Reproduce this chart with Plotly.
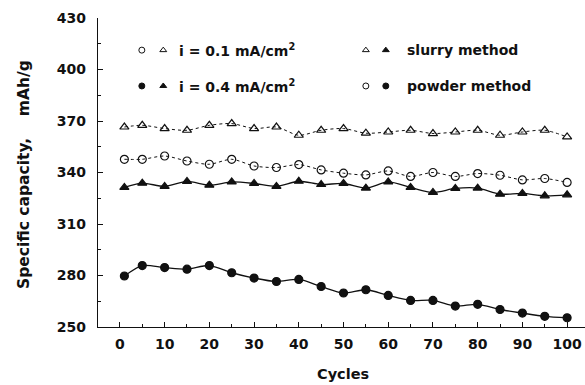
import plotly.graph_objects as go

# Cycle numbers at which capacity was measured
cycles = [1, 5, 10, 15, 20, 25, 30, 35, 40, 45, 50, 55, 60, 65, 70, 75, 80, 85, 90, 95, 100]

# Specific capacity (mAh/g)
slurry_01 = [366.5, 367.5, 365.6, 364.6, 367.5, 368.5, 365.6, 366.5, 361.7, 364.6, 365.6,
             362.9, 363.6, 364.6, 362.7, 363.6, 364.6, 361.7, 363.6, 364.6, 360.7]
powder_01 = [347.7, 347.7, 349.6, 346.7, 344.8, 347.7, 343.8, 342.9, 344.6, 341.5, 339.6,
             338.6, 340.9, 337.7, 340.0, 337.7, 339.4, 338.4, 335.7, 336.5, 334.2]
slurry_04 = [331.3, 333.8, 331.9, 334.8, 332.6, 334.5, 333.6, 331.9, 334.9, 333.0, 333.6,
             330.9, 334.5, 331.3, 328.4, 330.7, 330.9, 327.4, 327.8, 326.4, 327.0]
powder_04 = [279.7, 285.8, 284.6, 283.7, 285.8, 281.6, 278.5, 276.5, 277.7, 273.6, 269.8,
             271.7, 268.4, 265.5, 265.5, 262.2, 263.2, 260.2, 258.1, 256.2, 255.4]

x_ticks = [0, 10, 20, 30, 40, 50, 60, 70, 80, 90, 100]
x_labels = ["0", "10", "20", "30", "40", "50", "60", "70", "80", "90", "100"]
y_ticks = [250, 280, 310, 340, 370, 400, 430]

FONT = "DejaVu Sans"
INK = "#111111"

fig = go.Figure()

series = [
    (slurry_01, "triangle-up-open", "dot", 1.0),
    (powder_01, "circle-open", "dot", 1.0),
    (slurry_04, "triangle-up", "solid", 1.3),
    (powder_04, "circle", "solid", 1.3),
]
for values, symbol, dash, lw in series:
    fig.add_trace(go.Scatter(
        x=cycles, y=values, mode="lines+markers",
        line=dict(color=INK, width=lw, dash=dash, shape="spline", smoothing=0.8),
        marker=dict(symbol=symbol, size=8, color=INK, line=dict(color=INK, width=1.2)),
        showlegend=False, hoverinfo="skip",
    ))

# Key glyphs drawn on an overlay axis in paper-like units
key_rows = [0.896, 0.780]
key_left = [("circle-open", "triangle-up-open"), ("circle", "triangle-up")]
key_right = [("triangle-up-open", "triangle-up"), ("circle-open", "circle")]
for row_y, (s1, s2), (s3, s4) in zip(key_rows, key_left, key_right):
    fig.add_trace(go.Scatter(
        x=[0.090, 0.134, 0.550, 0.591], y=[row_y] * 4, mode="markers",
        marker=dict(symbol=[s1, s2, s3, s4], size=6, color=INK, line=dict(color=INK, width=1)),
        xaxis="x2", yaxis="y2", showlegend=False, hoverinfo="skip",
    ))

bold = dict(family=FONT, color=INK, weight="bold")

key_texts = [("i = 0.1 mA/cm<sup>2</sup>", 0.163, 0.896), ("i = 0.4 mA/cm<sup>2</sup>", 0.163, 0.780),
             ("slurry method", 0.630, 0.896), ("powder method", 0.630, 0.780)]
annotations = [
    dict(text=t, x=x, y=y, xref="paper", yref="paper", xanchor="left", yanchor="middle",
         showarrow=False, font=dict(size=14, **bold))
    for t, x, y in key_texts
]
annotations.append(dict(text="Cycles", x=0.503, y=-0.152, xref="paper", yref="paper",
                        xanchor="center", yanchor="middle", showarrow=False,
                        font=dict(size=14.5, **bold)))
annotations.append(dict(text="Specific capacity,\u00a0\u00a0\u00a0 mAh/g", x=-0.152, y=0.495,
                        xref="paper", yref="paper", textangle=-90, showarrow=False,
                        xanchor="center", yanchor="middle", font=dict(size=15.5, **bold)))

axis_common = dict(
    showgrid=False, zeroline=False, showline=True, linecolor=INK, linewidth=1.2,
    ticks="inside", ticklen=5, tickwidth=1, tickcolor=INK, mirror=False,
    tickfont=dict(size=14, **bold),
)

fig.update_layout(
    width=585, height=385,
    margin=dict(l=98, r=0, t=18, b=58),
    paper_bgcolor="white", plot_bgcolor="white",
    font=dict(family=FONT, color=INK),
    xaxis=dict(range=[-4.9, 104], tickvals=x_ticks, ticktext=x_labels, ticklabelstandoff=4,
               minor=dict(dtick=5, tick0=0, ticks="inside", ticklen=3, tickcolor=INK),
               **axis_common),
    yaxis=dict(range=[250, 430], tickvals=y_ticks, ticklabelstandoff=8,
               minor=dict(dtick=15, tick0=250, ticks="inside", ticklen=3, tickcolor=INK),
               **axis_common),
    xaxis2=dict(range=[0, 1], overlaying="x", visible=False),
    yaxis2=dict(range=[0, 1], overlaying="y", visible=False),
    annotations=annotations,
)

fig.write_html("out.html")
